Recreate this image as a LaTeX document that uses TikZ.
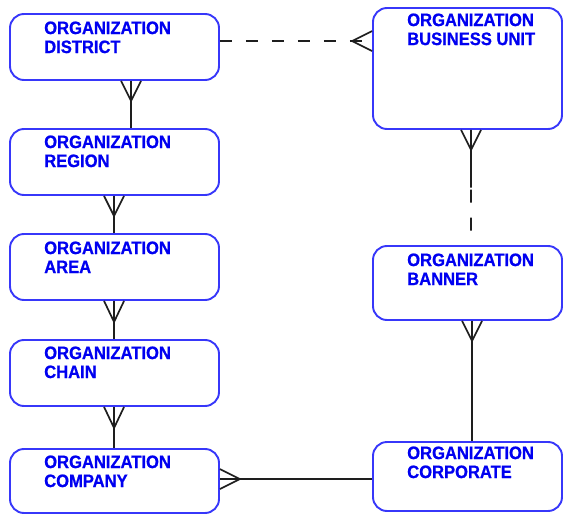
\documentclass[tikz,border=0pt]{standalone}
\usepackage{fontspec}
\setmainfont{Liberation Sans}[BoldFont={Liberation Sans Bold},BoldFeatures={FakeStretch=0.92,FakeBold=0.8}]
\usetikzlibrary{calc}
\definecolor{boxblue}{RGB}{55,55,250}
\definecolor{txtblue}{RGB}{0,0,240}
\definecolor{relgray}{RGB}{30,30,30}
\begin{document}
\begin{tikzpicture}[x=1pt,y=-1pt,
  ent/.style={draw=boxblue,line width=1.9pt,rounded corners=14pt,inner sep=0pt,minimum width=209pt},
  rent/.style={ent,minimum width=189pt},
  lbl/.style={anchor=base west,inner sep=0pt,align=left,text=txtblue,font=\fontsize{18}{19}\selectfont\bfseries},
  rel/.style={line width=1.7pt,draw=relgray},
  optrel/.style={rel,dash pattern=on 12pt off 14pt}]
\useasboundingbox (0,0) rectangle (563,514);
% entities, left column
\node[ent,minimum height=66pt] (dist) at (114.5,47) {};
\node[ent,minimum height=66pt] (reg) at (114.5,162) {};
\node[ent,minimum height=66pt] (area) at (114.5,267) {};
\node[ent,minimum height=66pt] (chain) at (114.5,373) {};
\node[ent,minimum height=64pt] (comp) at (114.5,481) {};
% entities, right column
\node[rent,minimum height=121pt] (bu) at (467.5,68.5) {};
\node[rent,minimum height=74pt] (ban) at (467.5,283) {};
\node[rent,minimum height=69pt] (corp) at (467.5,476.5) {};
% labels (base = baseline of the second line)
\node[lbl] (tdist) at ($(dist.north west)+(35,40)$) {ORGANIZATION\\DISTRICT};
\node[lbl] (treg) at ($(reg.north west)+(35,39)$) {ORGANIZATION\\REGION};
\node[lbl] (tarea) at ($(area.north west)+(35,40)$) {ORGANIZATION\\AREA};
\node[lbl] (tchain) at ($(chain.north west)+(35,39)$) {ORGANIZATION\\CHAIN};
\node[lbl] (tcomp) at ($(comp.north west)+(35,39)$) {ORGANIZATION\\COMPANY};
\node[lbl] (tbu) at ($(bu.north west)+(35,38)$) {ORGANIZATION\\BUSINESS UNIT};
\node[lbl] (tban) at ($(ban.north west)+(35,40)$) {ORGANIZATION\\BANNER};
\node[lbl] (tcorp) at ($(corp.north west)+(35,37)$) {ORGANIZATION\\CORPORATE};
% district - business unit (optional, many at business unit)
\draw[optrel] ($(dist.north east)+(0,28)$) -- ($(bu.north west)+(0,34)$);
\draw[rel] ($(bu.north west)+(0,24)$) -- ($(bu.north west)+(-20,34)$) -- ($(bu.north west)+(0,44)$);
% district - region
\draw[rel] ($(dist.south west)+(122,0)$) -- ($(reg.north west)+(122,0)$);
\draw[rel] ($(dist.south west)+(112,0)$) -- ($(dist.south west)+(122,20)$) -- ($(dist.south west)+(132,0)$);
% region - area
\draw[rel] ($(reg.south west)+(105,0)$) -- ($(area.north west)+(105,0)$);
\draw[rel] ($(reg.south west)+(95,0)$) -- ($(reg.south west)+(105,20)$) -- ($(reg.south west)+(115,0)$);
% area - chain
\draw[rel] ($(area.south west)+(105,0)$) -- ($(chain.north west)+(105,0)$);
\draw[rel] ($(area.south west)+(95,0)$) -- ($(area.south west)+(105,21)$) -- ($(area.south west)+(115,0)$);
% chain - company
\draw[rel] ($(chain.south west)+(105,0)$) -- ($(comp.north west)+(105,0)$);
\draw[rel] ($(chain.south west)+(95,0)$) -- ($(chain.south west)+(105,21)$) -- ($(chain.south west)+(115,0)$);
% business unit - banner (half mandatory, half optional)
\coordinate (mid) at ($(bu.south west)!0.5!(ban.north west)+(99,0)$);
\draw[rel] ($(bu.south west)+(99,0)$) -- (mid);
\draw[rel,dash pattern=on 13pt off 15pt] (mid) ++(0,2) -- ($(ban.north west)+(99,0)$);
\draw[rel] ($(bu.south west)+(89,0)$) -- ($(bu.south west)+(99,20)$) -- ($(bu.south west)+(109,0)$);
% banner - corporate
\draw[rel] ($(ban.south west)+(100,0)$) -- ($(corp.north west)+(100,0)$);
\draw[rel] ($(ban.south west)+(90,0)$) -- ($(ban.south west)+(100,20)$) -- ($(ban.south west)+(110,0)$);
% company - corporate
\draw[rel] ($(comp.north east)+(0,31)$) -- ($(corp.north west)+(0,38)$);
\draw[rel] ($(comp.north east)+(0,21)$) -- ($(comp.north east)+(20,31)$) -- ($(comp.north east)+(0,41)$);
\end{tikzpicture}
\end{document}
